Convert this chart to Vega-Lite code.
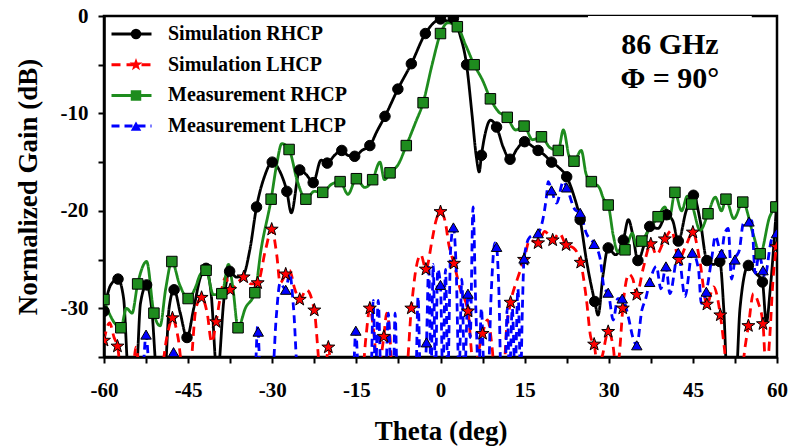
{
"$schema":"https://vega.github.io/schema/vega-lite/v6.json",
"width":673,"height":341,"autosize":"none",
"padding":{"left":104,"top":16,"right":31,"bottom":90},
"background":"white",
"config":{
 "font":"Liberation Serif",
 "view":{"stroke":"black","strokeWidth":2.5},
 "axis":{"labelFont":"Liberation Serif","labelFontSize":21,"labelFontWeight":"bold","labelColor":"black","titleFont":"Liberation Serif","titleFontSize":27,"titleFontWeight":"bold","titleColor":"black","domainColor":"black","domainWidth":2.5,"tickColor":"black","tickWidth":2,"tickSize":6,"gridColor":"#d6d6d6","gridWidth":1.5,"labelFlush":false,"labelOverlap":false},
 "axisX":{"labelPadding":16,"titlePadding":18},
 "axisY":{"labelPadding":10,"titlePadding":18}
},
"datasets":{
"curves":[
{"series":"Simulation RHCP","theta":-60,"gain":-30.3},{"series":"Simulation RHCP","theta":-58.8,"gain":-27.6},{"series":"Simulation RHCP","theta":-57.5,"gain":-27.0},{"series":"Simulation RHCP","theta":-56.5,"gain":-29},{"series":"Simulation RHCP","theta":-55.6,"gain":-37},{"series":"Simulation RHCP","theta":-54.3,"gain":-37},{"series":"Simulation RHCP","theta":-53.5,"gain":-29.5},{"series":"Simulation RHCP","theta":-52.4,"gain":-27.6},{"series":"Simulation RHCP","theta":-51.5,"gain":-30},{"series":"Simulation RHCP","theta":-50.5,"gain":-37},{"series":"Simulation RHCP","theta":-49.2,"gain":-37},{"series":"Simulation RHCP","theta":-48.4,"gain":-30},{"series":"Simulation RHCP","theta":-47.5,"gain":-28.1},{"series":"Simulation RHCP","theta":-46.4,"gain":-30.5},{"series":"Simulation RHCP","theta":-45.2,"gain":-33.0},{"series":"Simulation RHCP","theta":-44,"gain":-30},{"series":"Simulation RHCP","theta":-42.8,"gain":-26.8},{"series":"Simulation RHCP","theta":-41.8,"gain":-25.9},{"series":"Simulation RHCP","theta":-40.9,"gain":-28.5},{"series":"Simulation RHCP","theta":-39.8,"gain":-37},{"series":"Simulation RHCP","theta":-38.6,"gain":-29},{"series":"Simulation RHCP","theta":-37.6,"gain":-26.2},{"series":"Simulation RHCP","theta":-36.4,"gain":-26.8},{"series":"Simulation RHCP","theta":-35.2,"gain":-26.6},{"series":"Simulation RHCP","theta":-34,"gain":-24},{"series":"Simulation RHCP","theta":-32.8,"gain":-19.6},{"series":"Simulation RHCP","theta":-31.4,"gain":-16.5},{"series":"Simulation RHCP","theta":-30,"gain":-15.0},{"series":"Simulation RHCP","theta":-28.6,"gain":-16},{"series":"Simulation RHCP","theta":-27.4,"gain":-18.0},{"series":"Simulation RHCP","theta":-26.6,"gain":-20.2},{"series":"Simulation RHCP","theta":-25.1,"gain":-15.8},{"series":"Simulation RHCP","theta":-23.9,"gain":-16.3},{"series":"Simulation RHCP","theta":-22.7,"gain":-17.1},{"series":"Simulation RHCP","theta":-21.3,"gain":-14.8},{"series":"Simulation RHCP","theta":-20.2,"gain":-15.1},{"series":"Simulation RHCP","theta":-18.9,"gain":-14.3},{"series":"Simulation RHCP","theta":-17.6,"gain":-13.8},{"series":"Simulation RHCP","theta":-16.5,"gain":-14.3},{"series":"Simulation RHCP","theta":-15.3,"gain":-14.4},{"series":"Simulation RHCP","theta":-14,"gain":-13.8},{"series":"Simulation RHCP","theta":-12.6,"gain":-13.3},{"series":"Simulation RHCP","theta":-11.3,"gain":-11.8},{"series":"Simulation RHCP","theta":-9.9,"gain":-10.3},{"series":"Simulation RHCP","theta":-7.6,"gain":-7.5},{"series":"Simulation RHCP","theta":-5.2,"gain":-4.9},{"series":"Simulation RHCP","theta":-2.7,"gain":-1.8},{"series":"Simulation RHCP","theta":-1.2,"gain":-0.7},{"series":"Simulation RHCP","theta":0,"gain":-0.3},{"series":"Simulation RHCP","theta":1.2,"gain":-0.5},{"series":"Simulation RHCP","theta":2.3,"gain":-0.25},{"series":"Simulation RHCP","theta":3.5,"gain":-2},{"series":"Simulation RHCP","theta":4.65,"gain":-5.0},{"series":"Simulation RHCP","theta":5.6,"gain":-10},{"series":"Simulation RHCP","theta":6.4,"gain":-14.5},{"series":"Simulation RHCP","theta":6.9,"gain":-16.0},{"series":"Simulation RHCP","theta":7.3,"gain":-14.3},{"series":"Simulation RHCP","theta":8.0,"gain":-12},{"series":"Simulation RHCP","theta":8.9,"gain":-10.7},{"series":"Simulation RHCP","theta":10,"gain":-11.4},{"series":"Simulation RHCP","theta":11.2,"gain":-13.5},{"series":"Simulation RHCP","theta":12.4,"gain":-14.7},{"series":"Simulation RHCP","theta":13.7,"gain":-13.6},{"series":"Simulation RHCP","theta":15,"gain":-12.9},{"series":"Simulation RHCP","theta":16.2,"gain":-13.3},{"series":"Simulation RHCP","theta":17.4,"gain":-13.8},{"series":"Simulation RHCP","theta":18.6,"gain":-14.3},{"series":"Simulation RHCP","theta":19.8,"gain":-15.0},{"series":"Simulation RHCP","theta":21.2,"gain":-15.6},{"series":"Simulation RHCP","theta":22.5,"gain":-16.5},{"series":"Simulation RHCP","theta":23.7,"gain":-18.3},{"series":"Simulation RHCP","theta":24.9,"gain":-20.9},{"series":"Simulation RHCP","theta":26,"gain":-25},{"series":"Simulation RHCP","theta":27.5,"gain":-29.3},{"series":"Simulation RHCP","theta":28.1,"gain":-30.7},{"series":"Simulation RHCP","theta":29,"gain":-26.5},{"series":"Simulation RHCP","theta":29.9,"gain":-23.8},{"series":"Simulation RHCP","theta":31.2,"gain":-24.5},{"series":"Simulation RHCP","theta":32.6,"gain":-23.0},{"series":"Simulation RHCP","theta":33.5,"gain":-20.9},{"series":"Simulation RHCP","theta":34.3,"gain":-22.5},{"series":"Simulation RHCP","theta":35.2,"gain":-25.1},{"series":"Simulation RHCP","theta":36.3,"gain":-23.5},{"series":"Simulation RHCP","theta":37.3,"gain":-21.6},{"series":"Simulation RHCP","theta":38.8,"gain":-21.8},{"series":"Simulation RHCP","theta":40.3,"gain":-20.4},{"series":"Simulation RHCP","theta":41.4,"gain":-21},{"series":"Simulation RHCP","theta":42.4,"gain":-23.1},{"series":"Simulation RHCP","theta":43.8,"gain":-20},{"series":"Simulation RHCP","theta":45.1,"gain":-18.4},{"series":"Simulation RHCP","theta":46.3,"gain":-21},{"series":"Simulation RHCP","theta":47.5,"gain":-25.1},{"series":"Simulation RHCP","theta":48.7,"gain":-25.5},{"series":"Simulation RHCP","theta":49.8,"gain":-25.2},{"series":"Simulation RHCP","theta":50.5,"gain":-30},{"series":"Simulation RHCP","theta":51.2,"gain":-38},{"series":"Simulation RHCP","theta":52.6,"gain":-38},{"series":"Simulation RHCP","theta":53.4,"gain":-30},{"series":"Simulation RHCP","theta":54.9,"gain":-25.6},{"series":"Simulation RHCP","theta":56.2,"gain":-26.4},{"series":"Simulation RHCP","theta":57.4,"gain":-27.3},{"series":"Simulation RHCP","theta":58.1,"gain":-31.5},{"series":"Simulation RHCP","theta":58.8,"gain":-28},{"series":"Simulation RHCP","theta":59.9,"gain":-19.6},
{"series":"Simulation LHCP","theta":-60,"gain":-33.3},{"series":"Simulation LHCP","theta":-59,"gain":-31.5},{"series":"Simulation LHCP","theta":-58.2,"gain":-33},{"series":"Simulation LHCP","theta":-57.6,"gain":-33.9},{"series":"Simulation LHCP","theta":-56.8,"gain":-37},{"series":"Simulation LHCP","theta":-55,"gain":-37},{"series":"Simulation LHCP","theta":-54.3,"gain":-34},{"series":"Simulation LHCP","theta":-53.5,"gain":-37},{"series":"Simulation LHCP","theta":-50,"gain":-37},{"series":"Simulation LHCP","theta":-48.8,"gain":-33},{"series":"Simulation LHCP","theta":-47.8,"gain":-31.0},{"series":"Simulation LHCP","theta":-46.8,"gain":-33},{"series":"Simulation LHCP","theta":-45.8,"gain":-37},{"series":"Simulation LHCP","theta":-44.8,"gain":-37},{"series":"Simulation LHCP","theta":-43.6,"gain":-30},{"series":"Simulation LHCP","theta":-42.6,"gain":-28.9},{"series":"Simulation LHCP","theta":-41.6,"gain":-30.5},{"series":"Simulation LHCP","theta":-40.8,"gain":-33.5},{"series":"Simulation LHCP","theta":-40,"gain":-31.4},{"series":"Simulation LHCP","theta":-39,"gain":-28},{"series":"Simulation LHCP","theta":-38.3,"gain":-26.8},{"series":"Simulation LHCP","theta":-37.5,"gain":-28.1},{"series":"Simulation LHCP","theta":-36.3,"gain":-27.5},{"series":"Simulation LHCP","theta":-35.1,"gain":-26.8},{"series":"Simulation LHCP","theta":-33.8,"gain":-27.5},{"series":"Simulation LHCP","theta":-32.6,"gain":-27.4},{"series":"Simulation LHCP","theta":-31.2,"gain":-24},{"series":"Simulation LHCP","theta":-30.1,"gain":-21.9},{"series":"Simulation LHCP","theta":-29.2,"gain":-24.5},{"series":"Simulation LHCP","theta":-28.6,"gain":-27.4},{"series":"Simulation LHCP","theta":-27.6,"gain":-26.5},{"series":"Simulation LHCP","theta":-26.9,"gain":-26.1},{"series":"Simulation LHCP","theta":-26,"gain":-28},{"series":"Simulation LHCP","theta":-25.1,"gain":-29.1},{"series":"Simulation LHCP","theta":-23.9,"gain":-28.1},{"series":"Simulation LHCP","theta":-22.5,"gain":-30.2},{"series":"Simulation LHCP","theta":-21.3,"gain":-37},{"series":"Simulation LHCP","theta":-20.6,"gain":-37},{"series":"Simulation LHCP","theta":-20,"gain":-34.0},{"series":"Simulation LHCP","theta":-19.3,"gain":-37},{"series":"Simulation LHCP","theta":-14,"gain":-37},{"series":"Simulation LHCP","theta":-13.3,"gain":-33},{"series":"Simulation LHCP","theta":-12.6,"gain":-30.0},{"series":"Simulation LHCP","theta":-11.8,"gain":-33},{"series":"Simulation LHCP","theta":-11.2,"gain":-37},{"series":"Simulation LHCP","theta":-10.6,"gain":-35},{"series":"Simulation LHCP","theta":-10.1,"gain":-32.9},{"series":"Simulation LHCP","theta":-9.6,"gain":-30.5},{"series":"Simulation LHCP","theta":-9,"gain":-33},{"series":"Simulation LHCP","theta":-8.6,"gain":-37},{"series":"Simulation LHCP","theta":-6.2,"gain":-37},{"series":"Simulation LHCP","theta":-5.2,"gain":-30.0},{"series":"Simulation LHCP","theta":-4.3,"gain":-25.7},{"series":"Simulation LHCP","theta":-3.5,"gain":-24.5},{"series":"Simulation LHCP","theta":-2.6,"gain":-26.0},{"series":"Simulation LHCP","theta":-1.5,"gain":-23},{"series":"Simulation LHCP","theta":-0.8,"gain":-21},{"series":"Simulation LHCP","theta":0,"gain":-20.1},{"series":"Simulation LHCP","theta":0.8,"gain":-21},{"series":"Simulation LHCP","theta":1.5,"gain":-23.5},{"series":"Simulation LHCP","theta":2.4,"gain":-25.4},{"series":"Simulation LHCP","theta":3.5,"gain":-28},{"series":"Simulation LHCP","theta":4.9,"gain":-30.3},{"series":"Simulation LHCP","theta":5.6,"gain":-35},{"series":"Simulation LHCP","theta":6,"gain":-37},{"series":"Simulation LHCP","theta":6.6,"gain":-35},{"series":"Simulation LHCP","theta":7.5,"gain":-32.6},{"series":"Simulation LHCP","theta":8.4,"gain":-31.2},{"series":"Simulation LHCP","theta":9.2,"gain":-34},{"series":"Simulation LHCP","theta":9.7,"gain":-37},{"series":"Simulation LHCP","theta":11.2,"gain":-37},{"series":"Simulation LHCP","theta":11.8,"gain":-32},{"series":"Simulation LHCP","theta":12.5,"gain":-29.4},{"series":"Simulation LHCP","theta":13.7,"gain":-27},{"series":"Simulation LHCP","theta":14.9,"gain":-25.0},{"series":"Simulation LHCP","theta":15.9,"gain":-23},{"series":"Simulation LHCP","theta":17.4,"gain":-23.3},{"series":"Simulation LHCP","theta":18.6,"gain":-22.1},{"series":"Simulation LHCP","theta":20,"gain":-23.0},{"series":"Simulation LHCP","theta":21.2,"gain":-22.3},{"series":"Simulation LHCP","theta":22.4,"gain":-23.5},{"series":"Simulation LHCP","theta":23.7,"gain":-23.8},{"series":"Simulation LHCP","theta":25,"gain":-25.3},{"series":"Simulation LHCP","theta":26,"gain":-29},{"series":"Simulation LHCP","theta":26.8,"gain":-33},{"series":"Simulation LHCP","theta":27.4,"gain":-33.7},{"series":"Simulation LHCP","theta":28,"gain":-36},{"series":"Simulation LHCP","theta":28.8,"gain":-35},{"series":"Simulation LHCP","theta":29.9,"gain":-32.4},{"series":"Simulation LHCP","theta":30.8,"gain":-34},{"series":"Simulation LHCP","theta":31.4,"gain":-37},{"series":"Simulation LHCP","theta":32,"gain":-34},{"series":"Simulation LHCP","theta":32.5,"gain":-30.0},{"series":"Simulation LHCP","theta":33.6,"gain":-26.5},{"series":"Simulation LHCP","theta":34.3,"gain":-27},{"series":"Simulation LHCP","theta":35,"gain":-28.6},{"series":"Simulation LHCP","theta":36.1,"gain":-26},{"series":"Simulation LHCP","theta":37.5,"gain":-23.4},{"series":"Simulation LHCP","theta":38.5,"gain":-24.5},{"series":"Simulation LHCP","theta":40,"gain":-22.9},{"series":"Simulation LHCP","theta":41.2,"gain":-22.0},{"series":"Simulation LHCP","theta":42.5,"gain":-25.0},{"series":"Simulation LHCP","theta":43.8,"gain":-23.5},{"series":"Simulation LHCP","theta":45,"gain":-22.2},{"series":"Simulation LHCP","theta":46.2,"gain":-25},{"series":"Simulation LHCP","theta":47.5,"gain":-29.6},{"series":"Simulation LHCP","theta":48.7,"gain":-27.8},{"series":"Simulation LHCP","theta":49.9,"gain":-30.7},{"series":"Simulation LHCP","theta":50.6,"gain":-34},{"series":"Simulation LHCP","theta":51.2,"gain":-37},{"series":"Simulation LHCP","theta":53.6,"gain":-37},{"series":"Simulation LHCP","theta":54.3,"gain":-34},{"series":"Simulation LHCP","theta":54.9,"gain":-31.8},{"series":"Simulation LHCP","theta":55.8,"gain":-28.5},{"series":"Simulation LHCP","theta":56.7,"gain":-29.5},{"series":"Simulation LHCP","theta":57.5,"gain":-31.6},{"series":"Simulation LHCP","theta":58.1,"gain":-37},{"series":"Simulation LHCP","theta":58.7,"gain":-33},{"series":"Simulation LHCP","theta":59.3,"gain":-27},{"series":"Simulation LHCP","theta":59.9,"gain":-23.7},
{"series":"Measurement RHCP","theta":-60,"gain":-29.1},{"series":"Measurement RHCP","theta":-59,"gain":-30.6},{"series":"Measurement RHCP","theta":-58,"gain":-31.6},{"series":"Measurement RHCP","theta":-57,"gain":-32.0},{"series":"Measurement RHCP","theta":-56,"gain":-30},{"series":"Measurement RHCP","theta":-55,"gain":-30.5},{"series":"Measurement RHCP","theta":-54,"gain":-27.5},{"series":"Measurement RHCP","theta":-52.4,"gain":-25.2},{"series":"Measurement RHCP","theta":-51.1,"gain":-30.5},{"series":"Measurement RHCP","theta":-50,"gain":-31.8},{"series":"Measurement RHCP","theta":-49,"gain":-28},{"series":"Measurement RHCP","theta":-47.9,"gain":-25.2},{"series":"Measurement RHCP","theta":-46.5,"gain":-27.6},{"series":"Measurement RHCP","theta":-45,"gain":-29.0},{"series":"Measurement RHCP","theta":-43.8,"gain":-28},{"series":"Measurement RHCP","theta":-42.8,"gain":-26.5},{"series":"Measurement RHCP","theta":-41.8,"gain":-26.1},{"series":"Measurement RHCP","theta":-40.5,"gain":-28.6},{"series":"Measurement RHCP","theta":-39,"gain":-28.5},{"series":"Measurement RHCP","theta":-37.8,"gain":-25.5},{"series":"Measurement RHCP","theta":-37,"gain":-28},{"series":"Measurement RHCP","theta":-36.1,"gain":-32.0},{"series":"Measurement RHCP","theta":-34.8,"gain":-30},{"series":"Measurement RHCP","theta":-33.1,"gain":-28.4},{"series":"Measurement RHCP","theta":-32,"gain":-24},{"series":"Measurement RHCP","theta":-30.2,"gain":-18.8},{"series":"Measurement RHCP","theta":-29.2,"gain":-15.2},{"series":"Measurement RHCP","theta":-28.3,"gain":-13.1},{"series":"Measurement RHCP","theta":-27,"gain":-13.7},{"series":"Measurement RHCP","theta":-25.5,"gain":-17},{"series":"Measurement RHCP","theta":-24,"gain":-18.8},{"series":"Measurement RHCP","theta":-22.5,"gain":-18.0},{"series":"Measurement RHCP","theta":-21,"gain":-18.1},{"series":"Measurement RHCP","theta":-19.5,"gain":-17.3},{"series":"Measurement RHCP","theta":-17.9,"gain":-17.0},{"series":"Measurement RHCP","theta":-16.5,"gain":-18.3},{"series":"Measurement RHCP","theta":-15,"gain":-16.7},{"series":"Measurement RHCP","theta":-13.5,"gain":-17.6},{"series":"Measurement RHCP","theta":-12.1,"gain":-16.8},{"series":"Measurement RHCP","theta":-10.8,"gain":-15.0},{"series":"Measurement RHCP","theta":-10,"gain":-16.8},{"series":"Measurement RHCP","theta":-9,"gain":-16.1},{"series":"Measurement RHCP","theta":-7.5,"gain":-15.2},{"series":"Measurement RHCP","theta":-6.1,"gain":-13.3},{"series":"Measurement RHCP","theta":-4.5,"gain":-11},{"series":"Measurement RHCP","theta":-3.1,"gain":-8.9},{"series":"Measurement RHCP","theta":-1.5,"gain":-5},{"series":"Measurement RHCP","theta":0,"gain":-1.8},{"series":"Measurement RHCP","theta":1.3,"gain":-0.7},{"series":"Measurement RHCP","theta":3,"gain":-1.1},{"series":"Measurement RHCP","theta":4.5,"gain":-3},{"series":"Measurement RHCP","theta":6,"gain":-5.0},{"series":"Measurement RHCP","theta":7.5,"gain":-6.6},{"series":"Measurement RHCP","theta":8.9,"gain":-8.5},{"series":"Measurement RHCP","theta":10.3,"gain":-9.8},{"series":"Measurement RHCP","theta":11.9,"gain":-10.4},{"series":"Measurement RHCP","theta":13.4,"gain":-11.7},{"series":"Measurement RHCP","theta":14.9,"gain":-11.3},{"series":"Measurement RHCP","theta":16.4,"gain":-12.7},{"series":"Measurement RHCP","theta":18,"gain":-12.4},{"series":"Measurement RHCP","theta":19.5,"gain":-13.5},{"series":"Measurement RHCP","theta":21,"gain":-13.8},{"series":"Measurement RHCP","theta":21.9,"gain":-11.7},{"series":"Measurement RHCP","theta":23,"gain":-14.5},{"series":"Measurement RHCP","theta":23.8,"gain":-14.9},{"series":"Measurement RHCP","theta":25.1,"gain":-13.8},{"series":"Measurement RHCP","theta":26,"gain":-16.3},{"series":"Measurement RHCP","theta":26.9,"gain":-17.0},{"series":"Measurement RHCP","theta":28.3,"gain":-17.6},{"series":"Measurement RHCP","theta":29.1,"gain":-18.8},{"series":"Measurement RHCP","theta":29.9,"gain":-19.4},{"series":"Measurement RHCP","theta":30.8,"gain":-22.5},{"series":"Measurement RHCP","theta":31.6,"gain":-24.2},{"series":"Measurement RHCP","theta":32.9,"gain":-24.0},{"series":"Measurement RHCP","theta":34.2,"gain":-22.3},{"series":"Measurement RHCP","theta":35,"gain":-23.6},{"series":"Measurement RHCP","theta":35.9,"gain":-23.1},{"series":"Measurement RHCP","theta":37.3,"gain":-21.8},{"series":"Measurement RHCP","theta":38.8,"gain":-20.6},{"series":"Measurement RHCP","theta":40,"gain":-19.6},{"series":"Measurement RHCP","theta":40.8,"gain":-20.8},{"series":"Measurement RHCP","theta":41.8,"gain":-18.1},{"series":"Measurement RHCP","theta":43,"gain":-20.0},{"series":"Measurement RHCP","theta":44,"gain":-18.5},{"series":"Measurement RHCP","theta":44.8,"gain":-19.3},{"series":"Measurement RHCP","theta":46.3,"gain":-22.0},{"series":"Measurement RHCP","theta":47.7,"gain":-20.3},{"series":"Measurement RHCP","theta":49,"gain":-18.6},{"series":"Measurement RHCP","theta":50.1,"gain":-20.0},{"series":"Measurement RHCP","theta":50.9,"gain":-18.8},{"series":"Measurement RHCP","theta":52.3,"gain":-20.8},{"series":"Measurement RHCP","theta":53.9,"gain":-19.1},{"series":"Measurement RHCP","theta":55.7,"gain":-22.3},{"series":"Measurement RHCP","theta":57,"gain":-24.4},{"series":"Measurement RHCP","theta":58.7,"gain":-20.6},{"series":"Measurement RHCP","theta":59.8,"gain":-19.6},
{"series":"Measurement LHCP","theta":-60,"gain":-37},{"series":"Measurement LHCP","theta":-53.2,"gain":-37},{"series":"Measurement LHCP","theta":-52.5,"gain":-32.7},{"series":"Measurement LHCP","theta":-51.8,"gain":-37},{"series":"Measurement LHCP","theta":-48.2,"gain":-37},{"series":"Measurement LHCP","theta":-47.6,"gain":-34.5},{"series":"Measurement LHCP","theta":-47,"gain":-37},{"series":"Measurement LHCP","theta":-33.1,"gain":-37},{"series":"Measurement LHCP","theta":-32.6,"gain":-31.8},{"series":"Measurement LHCP","theta":-32.1,"gain":-37},{"series":"Measurement LHCP","theta":-30,"gain":-37},{"series":"Measurement LHCP","theta":-29.3,"gain":-31},{"series":"Measurement LHCP","theta":-28.6,"gain":-27.4},{"series":"Measurement LHCP","theta":-27.6,"gain":-28.1},{"series":"Measurement LHCP","theta":-26.9,"gain":-26.4},{"series":"Measurement LHCP","theta":-26.2,"gain":-30},{"series":"Measurement LHCP","theta":-25.4,"gain":-37},{"series":"Measurement LHCP","theta":-23.8,"gain":-37},{"series":"Measurement LHCP","theta":-23.5,"gain":-35},{"series":"Measurement LHCP","theta":-23.2,"gain":-37},{"series":"Measurement LHCP","theta":-15.6,"gain":-37},{"series":"Measurement LHCP","theta":-15.1,"gain":-32.3},{"series":"Measurement LHCP","theta":-14.6,"gain":-37},{"series":"Measurement LHCP","theta":-12.4,"gain":-37},{"series":"Measurement LHCP","theta":-12,"gain":-29.2},{"series":"Measurement LHCP","theta":-11.6,"gain":-37},{"series":"Measurement LHCP","theta":-11.1,"gain":-29.2},{"series":"Measurement LHCP","theta":-10.6,"gain":-37},{"series":"Measurement LHCP","theta":-9.8,"gain":-37},{"series":"Measurement LHCP","theta":-9.3,"gain":-30.5},{"series":"Measurement LHCP","theta":-8.8,"gain":-37},{"series":"Measurement LHCP","theta":-8.4,"gain":-37},{"series":"Measurement LHCP","theta":-8.1,"gain":-30.5},{"series":"Measurement LHCP","theta":-7.7,"gain":-37},{"series":"Measurement LHCP","theta":-4.4,"gain":-37},{"series":"Measurement LHCP","theta":-4,"gain":-28.8},{"series":"Measurement LHCP","theta":-3.6,"gain":-37},{"series":"Measurement LHCP","theta":-3,"gain":-37},{"series":"Measurement LHCP","theta":-2.5,"gain":-33.5},{"series":"Measurement LHCP","theta":-2.1,"gain":-25.5},{"series":"Measurement LHCP","theta":-1.7,"gain":-37},{"series":"Measurement LHCP","theta":-1.3,"gain":-25.5},{"series":"Measurement LHCP","theta":-0.9,"gain":-37},{"series":"Measurement LHCP","theta":-0.5,"gain":-26},{"series":"Measurement LHCP","theta":0,"gain":-27.6},{"series":"Measurement LHCP","theta":0.4,"gain":-37},{"series":"Measurement LHCP","theta":0.9,"gain":-26},{"series":"Measurement LHCP","theta":1.3,"gain":-37},{"series":"Measurement LHCP","theta":1.8,"gain":-24},{"series":"Measurement LHCP","theta":2.3,"gain":-21.7},{"series":"Measurement LHCP","theta":2.8,"gain":-26},{"series":"Measurement LHCP","theta":3.3,"gain":-37},{"series":"Measurement LHCP","theta":3.8,"gain":-27},{"series":"Measurement LHCP","theta":4.3,"gain":-37},{"series":"Measurement LHCP","theta":4.9,"gain":-28.5},{"series":"Measurement LHCP","theta":5.3,"gain":-33},{"series":"Measurement LHCP","theta":5.8,"gain":-19.6},{"series":"Measurement LHCP","theta":6.3,"gain":-30},{"series":"Measurement LHCP","theta":6.8,"gain":-37},{"series":"Measurement LHCP","theta":7.3,"gain":-30},{"series":"Measurement LHCP","theta":7.8,"gain":-37},{"series":"Measurement LHCP","theta":8.5,"gain":-37},{"series":"Measurement LHCP","theta":9,"gain":-29},{"series":"Measurement LHCP","theta":9.7,"gain":-23.3},{"series":"Measurement LHCP","theta":10,"gain":-23.7},{"series":"Measurement LHCP","theta":10.4,"gain":-28},{"series":"Measurement LHCP","theta":10.8,"gain":-37},{"series":"Measurement LHCP","theta":11.5,"gain":-37},{"series":"Measurement LHCP","theta":11.9,"gain":-30},{"series":"Measurement LHCP","theta":12.3,"gain":-37},{"series":"Measurement LHCP","theta":12.8,"gain":-30},{"series":"Measurement LHCP","theta":13.3,"gain":-37},{"series":"Measurement LHCP","theta":13.8,"gain":-28},{"series":"Measurement LHCP","theta":14.3,"gain":-37},{"series":"Measurement LHCP","theta":14.6,"gain":-30},{"series":"Measurement LHCP","theta":14.9,"gain":-24.9},{"series":"Measurement LHCP","theta":15.9,"gain":-22.7},{"series":"Measurement LHCP","theta":17.4,"gain":-22.3},{"series":"Measurement LHCP","theta":18.9,"gain":-18.5},{"series":"Measurement LHCP","theta":19.2,"gain":-17.0},{"series":"Measurement LHCP","theta":19.8,"gain":-17.9},{"series":"Measurement LHCP","theta":20.7,"gain":-19.2},{"series":"Measurement LHCP","theta":21.9,"gain":-17.0},{"series":"Measurement LHCP","theta":22.5,"gain":-17.6},{"series":"Measurement LHCP","theta":24,"gain":-19.9},{"series":"Measurement LHCP","theta":24.9,"gain":-20.2},{"series":"Measurement LHCP","theta":26,"gain":-22.3},{"series":"Measurement LHCP","theta":27.4,"gain":-23.4},{"series":"Measurement LHCP","theta":28.5,"gain":-25},{"series":"Measurement LHCP","theta":29.2,"gain":-28},{"series":"Measurement LHCP","theta":29.9,"gain":-28.4},{"series":"Measurement LHCP","theta":30.8,"gain":-31.2},{"series":"Measurement LHCP","theta":31.6,"gain":-29},{"series":"Measurement LHCP","theta":32.4,"gain":-29.0},{"series":"Measurement LHCP","theta":33.5,"gain":-30.9},{"series":"Measurement LHCP","theta":34.3,"gain":-33},{"series":"Measurement LHCP","theta":35,"gain":-33.8},{"series":"Measurement LHCP","theta":35.9,"gain":-30.2},{"series":"Measurement LHCP","theta":36.6,"gain":-29},{"series":"Measurement LHCP","theta":37.3,"gain":-27.3},{"series":"Measurement LHCP","theta":38.5,"gain":-25.7},{"series":"Measurement LHCP","theta":39.3,"gain":-28},{"series":"Measurement LHCP","theta":40.2,"gain":-25.7},{"series":"Measurement LHCP","theta":40.9,"gain":-28.5},{"series":"Measurement LHCP","theta":42.4,"gain":-24.3},{"series":"Measurement LHCP","theta":43.6,"gain":-28.8},{"series":"Measurement LHCP","theta":44.9,"gain":-24.3},{"series":"Measurement LHCP","theta":46,"gain":-26},{"series":"Measurement LHCP","theta":46.5,"gain":-29.5},{"series":"Measurement LHCP","theta":47.4,"gain":-28.3},{"series":"Measurement LHCP","theta":48.4,"gain":-24.7},{"series":"Measurement LHCP","theta":49,"gain":-22.6},{"series":"Measurement LHCP","theta":50.1,"gain":-24.4},{"series":"Measurement LHCP","theta":50.6,"gain":-22.5},{"series":"Measurement LHCP","theta":51.3,"gain":-21.8},{"series":"Measurement LHCP","theta":51.9,"gain":-27},{"series":"Measurement LHCP","theta":52.5,"gain":-25.0},{"series":"Measurement LHCP","theta":53.3,"gain":-24},{"series":"Measurement LHCP","theta":54,"gain":-21.3},{"series":"Measurement LHCP","theta":55,"gain":-21.1},{"series":"Measurement LHCP","theta":55.5,"gain":-21},{"series":"Measurement LHCP","theta":56.1,"gain":-26.4},{"series":"Measurement LHCP","theta":56.8,"gain":-24.5},{"series":"Measurement LHCP","theta":57.5,"gain":-26.1},{"series":"Measurement LHCP","theta":57.8,"gain":-26.8},{"series":"Measurement LHCP","theta":59,"gain":-23},{"series":"Measurement LHCP","theta":59.9,"gain":-22.3}
],
"markers":[
{"series":"Simulation RHCP","theta":-60,"gain":-30.3},{"series":"Simulation RHCP","theta":-57.5,"gain":-27.0},{"series":"Simulation RHCP","theta":-52.4,"gain":-27.6},{"series":"Simulation RHCP","theta":-47.5,"gain":-28.1},{"series":"Simulation RHCP","theta":-45.2,"gain":-33.0},{"series":"Simulation RHCP","theta":-41.8,"gain":-25.9},{"series":"Simulation RHCP","theta":-37.6,"gain":-26.2},{"series":"Simulation RHCP","theta":-32.8,"gain":-19.6},{"series":"Simulation RHCP","theta":-30,"gain":-15.0},{"series":"Simulation RHCP","theta":-27.4,"gain":-18.0},{"series":"Simulation RHCP","theta":-25.1,"gain":-15.8},{"series":"Simulation RHCP","theta":-22.7,"gain":-17.1},{"series":"Simulation RHCP","theta":-20.2,"gain":-15.1},{"series":"Simulation RHCP","theta":-17.6,"gain":-13.8},{"series":"Simulation RHCP","theta":-15.3,"gain":-14.4},{"series":"Simulation RHCP","theta":-12.6,"gain":-13.3},{"series":"Simulation RHCP","theta":-9.9,"gain":-10.3},{"series":"Simulation RHCP","theta":-7.6,"gain":-7.5},{"series":"Simulation RHCP","theta":-5.2,"gain":-4.9},{"series":"Simulation RHCP","theta":-2.7,"gain":-1.8},{"series":"Simulation RHCP","theta":0,"gain":-0.3},{"series":"Simulation RHCP","theta":2.3,"gain":-0.25},{"series":"Simulation RHCP","theta":4.65,"gain":-5.0},{"series":"Simulation RHCP","theta":7.3,"gain":-14.3},{"series":"Simulation RHCP","theta":10,"gain":-11.4},{"series":"Simulation RHCP","theta":12.4,"gain":-14.7},{"series":"Simulation RHCP","theta":15,"gain":-12.9},{"series":"Simulation RHCP","theta":17.4,"gain":-13.8},{"series":"Simulation RHCP","theta":19.8,"gain":-15.0},{"series":"Simulation RHCP","theta":22.5,"gain":-16.5},{"series":"Simulation RHCP","theta":24.9,"gain":-20.9},{"series":"Simulation RHCP","theta":27.5,"gain":-29.3},{"series":"Simulation RHCP","theta":29.9,"gain":-23.8},{"series":"Simulation RHCP","theta":32.6,"gain":-23.0},{"series":"Simulation RHCP","theta":35.2,"gain":-25.1},{"series":"Simulation RHCP","theta":37.3,"gain":-21.6},{"series":"Simulation RHCP","theta":40.3,"gain":-20.4},{"series":"Simulation RHCP","theta":42.4,"gain":-23.1},{"series":"Simulation RHCP","theta":45.1,"gain":-18.4},{"series":"Simulation RHCP","theta":47.5,"gain":-25.1},{"series":"Simulation RHCP","theta":49.8,"gain":-25.2},{"series":"Simulation RHCP","theta":54.9,"gain":-25.6},{"series":"Simulation RHCP","theta":57.4,"gain":-27.3},{"series":"Simulation RHCP","theta":59.9,"gain":-19.6},
{"series":"Simulation LHCP","theta":-60,"gain":-33.3},{"series":"Simulation LHCP","theta":-57.6,"gain":-33.9},{"series":"Simulation LHCP","theta":-47.8,"gain":-31.0},{"series":"Simulation LHCP","theta":-42.6,"gain":-28.9},{"series":"Simulation LHCP","theta":-40,"gain":-31.4},{"series":"Simulation LHCP","theta":-37.5,"gain":-28.1},{"series":"Simulation LHCP","theta":-35.1,"gain":-26.8},{"series":"Simulation LHCP","theta":-32.6,"gain":-27.4},{"series":"Simulation LHCP","theta":-30.1,"gain":-21.9},{"series":"Simulation LHCP","theta":-27.6,"gain":-26.5},{"series":"Simulation LHCP","theta":-25.1,"gain":-29.1},{"series":"Simulation LHCP","theta":-22.5,"gain":-30.2},{"series":"Simulation LHCP","theta":-20,"gain":-34.0},{"series":"Simulation LHCP","theta":-12.6,"gain":-30.0},{"series":"Simulation LHCP","theta":-10.1,"gain":-32.9},{"series":"Simulation LHCP","theta":-5.2,"gain":-30.0},{"series":"Simulation LHCP","theta":-2.6,"gain":-26.0},{"series":"Simulation LHCP","theta":0,"gain":-20.1},{"series":"Simulation LHCP","theta":2.4,"gain":-25.4},{"series":"Simulation LHCP","theta":4.9,"gain":-30.3},{"series":"Simulation LHCP","theta":7.5,"gain":-32.6},{"series":"Simulation LHCP","theta":12.5,"gain":-29.4},{"series":"Simulation LHCP","theta":14.9,"gain":-25.0},{"series":"Simulation LHCP","theta":17.4,"gain":-23.3},{"series":"Simulation LHCP","theta":20,"gain":-23.0},{"series":"Simulation LHCP","theta":22.4,"gain":-23.5},{"series":"Simulation LHCP","theta":25,"gain":-25.3},{"series":"Simulation LHCP","theta":27.4,"gain":-33.7},{"series":"Simulation LHCP","theta":29.9,"gain":-32.4},{"series":"Simulation LHCP","theta":32.5,"gain":-30.0},{"series":"Simulation LHCP","theta":35,"gain":-28.6},{"series":"Simulation LHCP","theta":37.5,"gain":-23.4},{"series":"Simulation LHCP","theta":40,"gain":-22.9},{"series":"Simulation LHCP","theta":42.5,"gain":-25.0},{"series":"Simulation LHCP","theta":45,"gain":-22.2},{"series":"Simulation LHCP","theta":47.5,"gain":-29.6},{"series":"Simulation LHCP","theta":49.9,"gain":-30.7},{"series":"Simulation LHCP","theta":54.9,"gain":-31.8},{"series":"Simulation LHCP","theta":57.5,"gain":-31.6},{"series":"Simulation LHCP","theta":59.9,"gain":-23.7},
{"series":"Measurement RHCP","theta":-60,"gain":-29.1},{"series":"Measurement RHCP","theta":-57,"gain":-32.0},{"series":"Measurement RHCP","theta":-54,"gain":-27.5},{"series":"Measurement RHCP","theta":-51.1,"gain":-30.5},{"series":"Measurement RHCP","theta":-47.9,"gain":-25.2},{"series":"Measurement RHCP","theta":-45,"gain":-29.0},{"series":"Measurement RHCP","theta":-41.8,"gain":-26.1},{"series":"Measurement RHCP","theta":-39,"gain":-28.5},{"series":"Measurement RHCP","theta":-36.1,"gain":-32.0},{"series":"Measurement RHCP","theta":-33.1,"gain":-28.4},{"series":"Measurement RHCP","theta":-30.2,"gain":-18.8},{"series":"Measurement RHCP","theta":-27,"gain":-13.7},{"series":"Measurement RHCP","theta":-24,"gain":-18.8},{"series":"Measurement RHCP","theta":-21,"gain":-18.1},{"series":"Measurement RHCP","theta":-17.9,"gain":-17.0},{"series":"Measurement RHCP","theta":-15,"gain":-16.7},{"series":"Measurement RHCP","theta":-12.1,"gain":-16.8},{"series":"Measurement RHCP","theta":-9,"gain":-16.1},{"series":"Measurement RHCP","theta":-6.1,"gain":-13.3},{"series":"Measurement RHCP","theta":-3.1,"gain":-8.9},{"series":"Measurement RHCP","theta":0,"gain":-1.8},{"series":"Measurement RHCP","theta":3,"gain":-1.1},{"series":"Measurement RHCP","theta":6,"gain":-5.0},{"series":"Measurement RHCP","theta":8.9,"gain":-8.5},{"series":"Measurement RHCP","theta":11.9,"gain":-10.4},{"series":"Measurement RHCP","theta":14.9,"gain":-11.3},{"series":"Measurement RHCP","theta":18,"gain":-12.4},{"series":"Measurement RHCP","theta":21,"gain":-13.8},{"series":"Measurement RHCP","theta":23.8,"gain":-14.9},{"series":"Measurement RHCP","theta":26.9,"gain":-17.0},{"series":"Measurement RHCP","theta":29.9,"gain":-19.4},{"series":"Measurement RHCP","theta":32.9,"gain":-24.0},{"series":"Measurement RHCP","theta":35.9,"gain":-23.1},{"series":"Measurement RHCP","theta":38.8,"gain":-20.6},{"series":"Measurement RHCP","theta":41.8,"gain":-18.1},{"series":"Measurement RHCP","theta":44.8,"gain":-19.3},{"series":"Measurement RHCP","theta":47.7,"gain":-20.3},{"series":"Measurement RHCP","theta":50.9,"gain":-18.8},{"series":"Measurement RHCP","theta":53.9,"gain":-19.1},{"series":"Measurement RHCP","theta":57,"gain":-24.4},{"series":"Measurement RHCP","theta":59.8,"gain":-19.6},
{"series":"Measurement LHCP","theta":-52.5,"gain":-32.7},{"series":"Measurement LHCP","theta":-47.6,"gain":-34.5},{"series":"Measurement LHCP","theta":-32.5,"gain":-32.4},{"series":"Measurement LHCP","theta":-27.6,"gain":-28.1},{"series":"Measurement LHCP","theta":-15.1,"gain":-32.3},{"series":"Measurement LHCP","theta":-2.5,"gain":-33.5},{"series":"Measurement LHCP","theta":0,"gain":-27.6},{"series":"Measurement LHCP","theta":2.3,"gain":-21.7},{"series":"Measurement LHCP","theta":4.9,"gain":-28.5},{"series":"Measurement LHCP","theta":10,"gain":-23.7},{"series":"Measurement LHCP","theta":14.9,"gain":-24.9},{"series":"Measurement LHCP","theta":17.4,"gain":-22.3},{"series":"Measurement LHCP","theta":19.8,"gain":-17.9},{"series":"Measurement LHCP","theta":22.5,"gain":-17.6},{"series":"Measurement LHCP","theta":24.9,"gain":-20.2},{"series":"Measurement LHCP","theta":27.4,"gain":-23.4},{"series":"Measurement LHCP","theta":29.9,"gain":-28.4},{"series":"Measurement LHCP","theta":32.4,"gain":-29.0},{"series":"Measurement LHCP","theta":35,"gain":-33.8},{"series":"Measurement LHCP","theta":37.3,"gain":-27.3},{"series":"Measurement LHCP","theta":40.2,"gain":-25.7},{"series":"Measurement LHCP","theta":42.4,"gain":-24.3},{"series":"Measurement LHCP","theta":44.9,"gain":-24.3},{"series":"Measurement LHCP","theta":47.4,"gain":-28.3},{"series":"Measurement LHCP","theta":50.1,"gain":-24.4},{"series":"Measurement LHCP","theta":52.5,"gain":-25.0},{"series":"Measurement LHCP","theta":55,"gain":-21.1},{"series":"Measurement LHCP","theta":57.5,"gain":-26.1},{"series":"Measurement LHCP","theta":59.9,"gain":-22.3}
]
},
"layer":[
 {"data":{"values":[{}]},"mark":{"type":"rect","fill":"white"},
  "encoding":{"x":{"datum":26.3,"type":"quantitative","scale":{"domain":[-60,60],"nice":false,"zero":false},"title":"Theta (deg)"},"x2":{"datum":55.5},"y":{"datum":0,"type":"quantitative","scale":{"domain":[-35,0],"nice":false,"zero":false},"title":"Normalized Gain (dB)"},"y2":{"datum":-8.9}}},
 {"data":{"name":"curves"},"mark":{"type":"line","clip":true,"strokeWidth":2.8,"interpolate":"monotone"},
  "encoding":{
   "x":{"field":"theta","type":"quantitative","scale":{"domain":[-60,60],"nice":false,"zero":false},"axis":{"title":"Theta (deg)","values":[-60,-52.5,-45,-37.5,-30,-22.5,-15,-7.5,0,7.5,15,22.5,30,37.5,45,52.5,60],"labelExpr":"datum.value % 15 === 0 ? '' + datum.value : ''"}},
   "y":{"field":"gain","type":"quantitative","scale":{"domain":[-35,0],"nice":false,"zero":false},"axis":{"title":"Normalized Gain (dB)","values":[-35,-30,-25,-20,-15,-10,-5,0],"labelExpr":"datum.value % 10 === 0 ? '' + datum.value : ''"}},
   "color":{"field":"series","type":"nominal","scale":{"domain":["Simulation RHCP","Simulation LHCP","Measurement RHCP","Measurement LHCP"],"range":["#000000","#ff0000","#1e8c1e","#0000ff"]},
     "legend":{"title":null,"orient":"top-left","offset":4,"padding":2,"fillColor":"white","symbolType":"stroke","symbolSize":1600,"symbolStrokeWidth":3,"labelFont":"Liberation Serif","labelFontSize":20,"labelFontWeight":"bold","labelColor":"black","labelOffset":15,"labelLimit":400,"clipHeight":24,"rowPadding":6.7}},
   "strokeDash":{"field":"series","type":"nominal","scale":{"domain":["Simulation RHCP","Simulation LHCP","Measurement RHCP","Measurement LHCP"],"range":[[1,0],[9,6],[1,0],[8,5]]},
     "legend":{"title":null,"orient":"top-left","offset":4,"padding":2,"fillColor":"white","symbolType":"stroke","symbolSize":1600,"symbolStrokeWidth":3,"labelFont":"Liberation Serif","labelFontSize":20,"labelFontWeight":"bold","labelColor":"black","labelOffset":15,"labelLimit":400,"clipHeight":24,"rowPadding":6.7}}
  }},
 {"data":{"name":"markers"},"mark":{"type":"point","filled":true,"clip":true,"size":110,"stroke":"black","strokeWidth":1,"opacity":1},
  "encoding":{
   "x":{"field":"theta","type":"quantitative","scale":{"domain":[-60,60],"nice":false,"zero":false},"title":"Theta (deg)"},
   "y":{"field":"gain","type":"quantitative","scale":{"domain":[-35,0],"nice":false,"zero":false},"title":"Normalized Gain (dB)"},
   "fill":{"field":"series","type":"nominal","scale":{"domain":["Simulation RHCP","Simulation LHCP","Measurement RHCP","Measurement LHCP"],"range":["#000000","#ff0000","#1e8c1e","#0000ff"]},"legend":null},
   "shape":{"field":"series","type":"nominal","scale":{"domain":["Simulation RHCP","Simulation LHCP","Measurement RHCP","Measurement LHCP"],"range":["circle","M0,-1.3L0.306,-0.421L1.236,-0.402L0.495,0.161L0.764,1.052L0,0.52L-0.764,1.052L-0.495,0.161L-1.236,-0.402L-0.306,-0.421Z","square","triangle-up"]},
     "legend":{"title":null,"orient":"none","legendX":20,"legendY":4,"padding":2,"symbolSize":110,"symbolStrokeColor":"black","symbolStrokeWidth":1,"labelExpr":"''","labelFont":"Liberation Serif","labelFontSize":20,"labelFontWeight":"bold","clipHeight":24,"rowPadding":6.7,
       "encode":{"symbols":{"update":{"fill":{"scale":"fill","field":"value"},"stroke":{"value":"black"},"opacity":{"value":1}}}}}}
  }},
 {"data":{"values":[{}]},"mark":{"type":"text","font":"Liberation Serif","fontSize":30,"fontWeight":"bold","align":"center","baseline":"alphabetic","color":"black"},
  "encoding":{"x":{"datum":40.9,"type":"quantitative","scale":{"domain":[-60,60],"nice":false,"zero":false},"title":"Theta (deg)"},"y":{"datum":-3.9,"type":"quantitative","scale":{"domain":[-35,0],"nice":false,"zero":false},"title":"Normalized Gain (dB)"},"text":{"value":"86 GHz"}}},
 {"data":{"values":[{}]},"mark":{"type":"text","font":"Liberation Serif","fontSize":30,"fontWeight":"bold","align":"center","baseline":"alphabetic","color":"black"},
  "encoding":{"x":{"datum":40.9,"type":"quantitative","scale":{"domain":[-60,60],"nice":false,"zero":false},"title":"Theta (deg)"},"y":{"datum":-7.4,"type":"quantitative","scale":{"domain":[-35,0],"nice":false,"zero":false},"title":"Normalized Gain (dB)"},"text":{"value":"Φ = 90°"}}}
]
}
